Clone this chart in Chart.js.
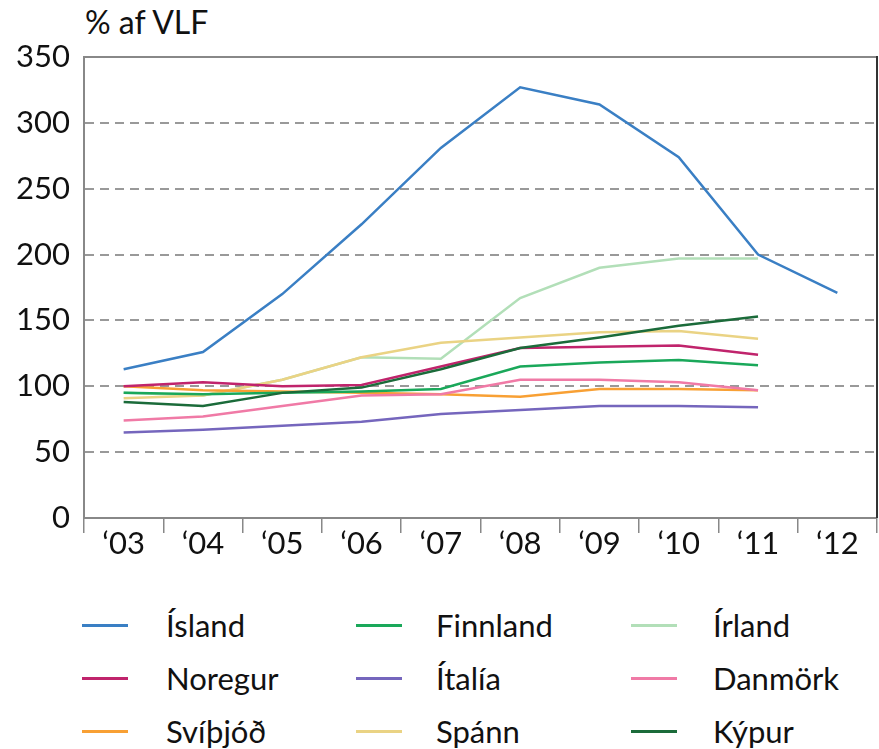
<!DOCTYPE html>
<html><head><meta charset="utf-8">
<script src="https://cdn.jsdelivr.net/npm/chart.js@4/dist/chart.umd.min.js"></script>
<style>
html,body{margin:0;padding:0;background:#fff;}
#wrap{position:relative;width:879px;height:749px;font-family:Lato,sans-serif;color:#111;}
#title{position:absolute;left:85px;top:2px;font-size:32px;}
#cw{position:absolute;left:0;top:0;width:879px;height:580px;}
#legend{position:absolute;left:0;top:609px;width:879px;height:140px;}
.li{position:absolute;font-size:31px;line-height:32px;}
.li span.sw{position:absolute;top:15px;height:3px;width:46px;}
</style></head><body>
<div id="wrap">
<div id="title">% af VLF</div>
<div id="cw"><canvas id="c"></canvas></div>
<div id="legend"></div>
</div>
<script>
const years = ["‘03","‘04","‘05","‘06","‘07","‘08","‘09","‘10","‘11","‘12"];
const yTicks = [0,50,100,150,200,250,300,350];
const island   = [113,126,170,223,281,327,314,274,200,171];
const finnland = [95,94,95,96,98,115,118,120,116,null];
const irland   = [95,93,105,122,121,167,190,197,197,null];
const noregur  = [100,103,100,101,115,129,130,131,124,null];
const italia   = [65,67,70,73,79,82,85,85,84,null];
const danmork  = [74,77,85,93,94,105,105,103,97,null];
const svithjod = [100,97,96,95,94,92,98,98,97,null];
const spann    = [91,93,105,122,133,137,141,142,136,null];
const kypur    = [88,85,95,99,113,129,137,146,153,null];

const series = [
  {label:"Ísland", data:island, color:"#3a7fc4"},
  {label:"Finnland", data:finnland, color:"#1aa85a"},
  {label:"Írland", data:irland, color:"#b2dfb8"},
  {label:"Noregur", data:noregur, color:"#c0246c"},
  {label:"Ítalía", data:italia, color:"#7566bd"},
  {label:"Danmörk", data:danmork, color:"#f07aa6"},
  {label:"Svíþjóð", data:svithjod, color:"#f8a034"},
  {label:"Spánn", data:spann, color:"#ead384"},
  {label:"Kýpur", data:kypur, color:"#1b6b3a"}
];
const order = ["Írland","Spánn","Svíþjóð","Danmörk","Ítalía","Finnland","Noregur","Kýpur","Ísland"];
const datasets = series.map(s=>({
  label:s.label, data:s.data, borderColor:s.color, backgroundColor:s.color,
  borderWidth:2.5, pointRadius:0, tension:0, fill:false,
  order: order.length - order.indexOf(s.label)
}));

const frame = {
  id:'frame',
  afterDraw(chart){
    const a = chart.chartArea, ctx = chart.ctx;
    ctx.save();
    ctx.strokeStyle = '#888'; ctx.lineWidth = 2;
    ctx.beginPath(); ctx.moveTo(a.left, a.top); ctx.lineTo(a.right, a.top); ctx.stroke();
    ctx.strokeStyle = '#333'; ctx.lineWidth = 2;
    ctx.beginPath(); ctx.moveTo(a.right, a.top-1); ctx.lineTo(a.right, a.bottom); ctx.stroke();
    ctx.restore();
  }
};

new Chart(document.getElementById('c'), {
  type:'line',
  data:{labels:years, datasets},
  options:{
    responsive:true, maintainAspectRatio:false, animation:false,
    layout:{padding:{top:57,right:2,left:0,bottom:0}},
    plugins:{legend:{display:false}, tooltip:{enabled:false}},
    scales:{
      x:{
        offset:true,
        grid:{offset:true, drawOnChartArea:false, drawTicks:true, tickLength:15, color:'#888', lineWidth:1.5},
        border:{display:true, color:'#888', width:2},
        ticks:{color:'#111', font:{family:'Lato', size:31}, padding:-8, maxRotation:0},
        afterFit:s=>{s.height=62;}
      },
      y:{
        min:0, max:350,
        afterBuildTicks:s=>{s.ticks=yTicks.map(v=>({value:v}));},
        grid:{drawTicks:false, lineWidth:2,
          color:ctx=>(ctx.tick && (ctx.tick.value===0||ctx.tick.value===350))?'rgba(0,0,0,0)':'#999'},
        border:{display:true, color:'#888', width:2, dash:[9,6]},
        ticks:{color:'#111', font:{family:'Lato', size:31}, padding:14},
        afterFit:s=>{s.width=84;}
      }
    }
  },
  plugins:[frame]
});
</script>
<script>
const leg = document.getElementById('legend');
const cols = [{sw:82,tx:166},{sw:356,tx:436},{sw:631,tx:713}];
const rows = [0,53,106];
series.forEach((s,i)=>{
  const c = cols[i%3], r = rows[Math.floor(i/3)];
  const d = document.createElement('div'); d.className='li';
  d.style.left=c.sw+'px'; d.style.top=r+'px'; d.style.width='400px';
  const sw = document.createElement('span');
  sw.className='sw'; sw.style.background=s.color; sw.style.left='0px';
  const t = document.createElement('span');
  t.textContent=s.label; t.style.position='absolute'; t.style.left=(c.tx-c.sw)+'px';
  d.appendChild(sw); d.appendChild(t); leg.appendChild(d);
});
</script>
</body></html>
